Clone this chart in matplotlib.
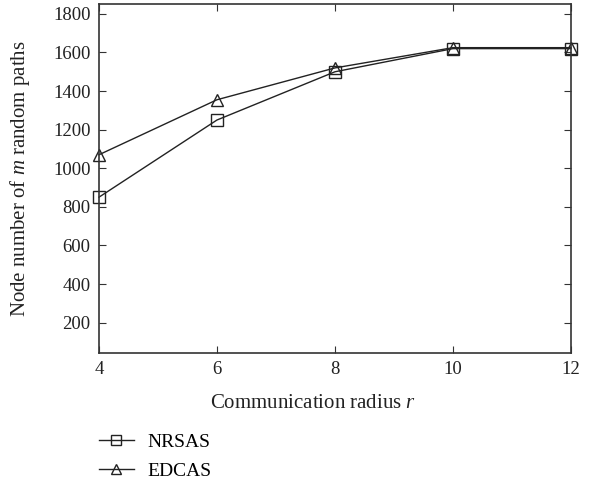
import matplotlib
matplotlib.use('Agg')
import matplotlib.pyplot as plt

plt.rcParams['font.family'] = ['Liberation Serif', 'DejaVu Serif']
plt.rcParams['mathtext.fontset'] = 'custom'
plt.rcParams['mathtext.it'] = 'Liberation Serif:italic'
plt.rcParams['mathtext.rm'] = 'Liberation Serif'

radius = [4, 6, 8, 10, 12]
nrsas = [850, 1250, 1500, 1620, 1620]
edcas = [1070, 1355, 1520, 1625, 1625]
yticks = [200, 400, 600, 800, 1000, 1200, 1400, 1600, 1800]

fig = plt.figure(figsize=(5.91, 4.83), dpi=100)
ax = fig.add_axes([0.1675, 0.269, 0.7985, 0.723])

ax.plot(radius, nrsas, color='#222222', lw=1.0, marker='s', ms=8.5,
        mfc='none', mec='#222222', mew=1.0, label='NRSAS', clip_on=False)
ax.plot(radius, edcas, color='#222222', lw=1.0, marker='^', ms=8.5,
        mfc='none', mec='#222222', mew=1.0, label='EDCAS', clip_on=False)

ax.set_xlim(4, 12)
ax.set_ylim(42, 1852)
ax.set_xticks([4, 6, 8, 10, 12])
ax.set_yticks(yticks)
ax.tick_params(direction='in', top=True, right=True, labelsize=13.5, length=5,
               color='#333333', labelcolor='#222222', pad=6)
for s in ax.spines.values():
    s.set_linewidth(1.2)
    s.set_color('#333333')

ax.set_xlabel('Communication radius $r$', fontsize=15, color='#222222')
ax.xaxis.set_label_coords(0.453, -0.118)
ax.set_ylabel('Node number of $m$ random paths', fontsize=15, color='#222222', labelpad=15)

# legend sits under the axes, left side
fig.legend(loc='upper left', bbox_to_anchor=(0.167, 0.103), frameon=False,
           fontsize=14, handlelength=1.8, handletextpad=0.72, labelspacing=0.58,
           markerscale=0.8, borderaxespad=0, borderpad=0)

fig.savefig('out.png', dpi=100)
